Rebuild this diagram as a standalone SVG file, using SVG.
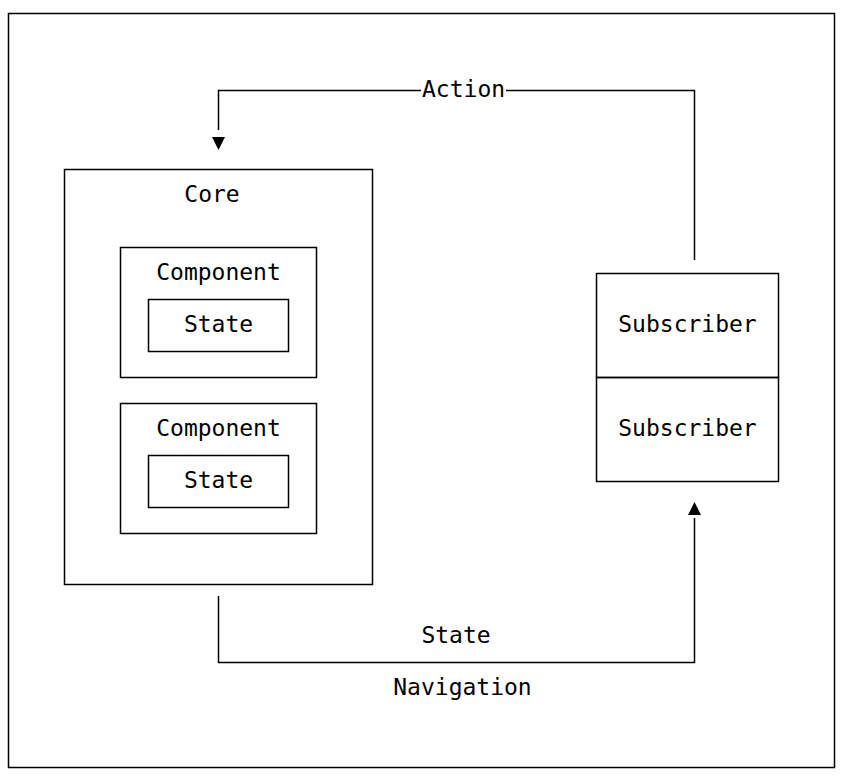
<svg xmlns="http://www.w3.org/2000/svg" width="842" height="782" viewBox="0 0 842 782">
<style>
.b{fill:none;stroke:#000;stroke-width:1.5}
.t{font-family:"DejaVu Sans Mono","Liberation Mono",monospace;font-size:23px;fill:#000}
.c{text-anchor:middle}
</style>
<rect width="842" height="782" fill="#fff"/>
<g id="frame"><rect class="b" x="8.5" y="13.5" width="826" height="754"/></g>
<g id="core">
<rect class="b" x="64.5" y="169.5" width="308" height="415"/>
<text class="t c" x="212" y="202">Core</text>
</g>
<g id="component1">
<rect class="b" x="120.5" y="247.5" width="196" height="130"/>
<text class="t c" x="218.5" y="280">Component</text>
</g>
<g id="state1">
<rect class="b" x="148.5" y="299.5" width="140" height="52"/>
<text class="t c" x="218.5" y="332">State</text>
</g>
<g id="component2">
<rect class="b" x="120.5" y="403.5" width="196" height="130"/>
<text class="t c" x="218.5" y="436">Component</text>
</g>
<g id="state2">
<rect class="b" x="148.5" y="455.5" width="140" height="52"/>
<text class="t c" x="218.5" y="488">State</text>
</g>
<g id="subscriber1">
<rect class="b" x="596.5" y="273.5" width="182" height="104"/>
<text class="t c" x="687.5" y="332">Subscriber</text>
</g>
<g id="subscriber2">
<rect class="b" x="596.5" y="377.5" width="182" height="104"/>
<text class="t c" x="687.5" y="436">Subscriber</text>
</g>
<g id="connectors">
<path class="b" d="M694.5 260V90.5H506M421 90.5H218.5V130"/>
<polygon points="212,137 225,137 218.5,150" fill="#000"/>
<text class="t" x="422" y="97">Action</text>
<path class="b" d="M218.5 596V662.5H694.5V518"/>
<polygon points="688,515 701,515 694.5,502" fill="#000"/>
<text class="t c" x="456" y="643">State</text>
<text class="t c" x="462.5" y="695">Navigation</text>
</g>
</svg>
